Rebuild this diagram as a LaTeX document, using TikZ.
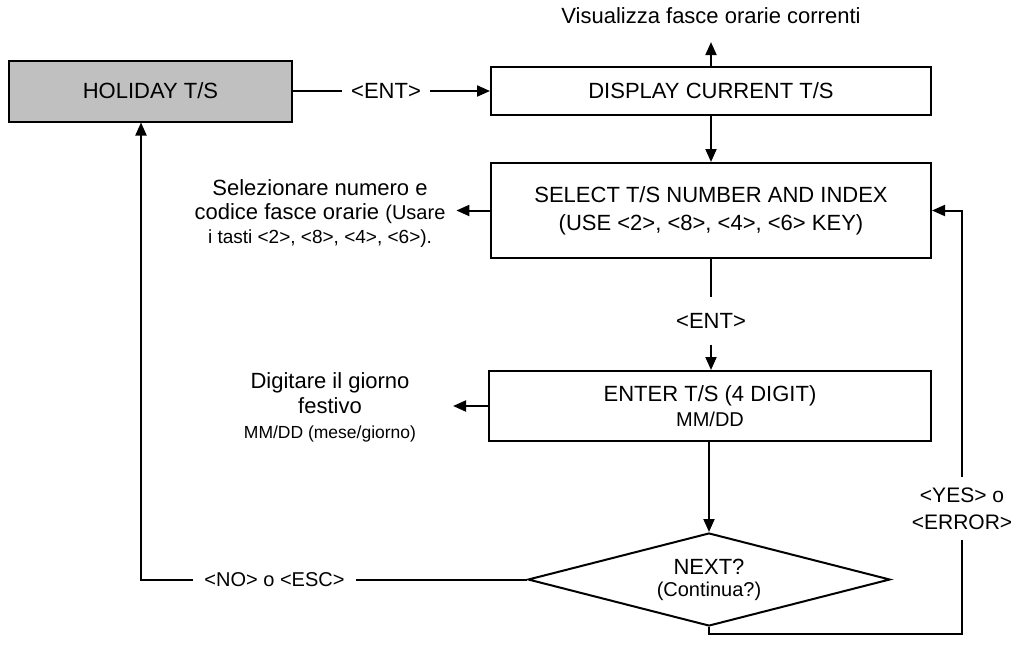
\documentclass[tikz,border=0pt]{standalone}
\usepackage{fontspec}
\setmainfont{Liberation Sans}
\usetikzlibrary{arrows.meta,shapes.geometric}
\definecolor{holgray}{RGB}{192,192,192}
\newcommand\txtA{\fontsize{22}{28}\selectfont}
\newcommand\txtB{\fontsize{20}{24}\selectfont}
\newcommand\txtC{\fontsize{19}{24}\selectfont}
\begin{document}
\begin{tikzpicture}[x=1pt,y=-1pt,
  line width=2pt,
  >={Triangle[length=13pt,width=11pt]},
  box/.style={draw, rectangle, inner sep=0pt, align=center, font=\txtA},
  lbl/.style={inner sep=0pt, align=center, font=\fontsize{22}{24}\selectfont}]
\useasboundingbox (0,0) rectangle (1020,664);

% process boxes
\node[box, fill=holgray, minimum width=283pt, minimum height=61pt] (hol) at (150.5,91) {HOLIDAY T/S};
\node[box, minimum width=440pt, minimum height=48pt] (disp) at (711,91) {DISPLAY CURRENT T/S};
\node[box, minimum width=440pt, minimum height=95pt] (sel) at (711,210.5)
  {SELECT T/S NUMBER AND INDEX\\(USE <2>, <8>, <4>, <6> KEY)};
\node[box, minimum width=442pt, minimum height=70pt, font=\fontsize{22}{25}\selectfont] (ent) at (710,406)
  {ENTER T/S (4 DIGIT)\\{\txtB MM/DD}};
\node[draw, diamond, aspect=3.9, minimum width=362pt, minimum height=93pt, inner sep=0pt,
  align=center, font=\fontsize{22}{22}\selectfont] (dia) at (709,579.5)
  {NEXT?\\{\txtB (Continua?)}};

% descriptions and key labels
\node[lbl, inner ysep=17pt] (vis) at (711,16) {Visualizza fasce orarie correnti};
\node[lbl, inner xsep=8pt] (ent1) at (386,91) {<ENT>};
\node[lbl, inner xsep=10pt] (selnote) at (320,213)
  {Selezionare numero e\\codice fasce orarie {\txtB (Usare}\\{\txtC i tasti <2>, <8>, <4>, <6>).}};
\node[lbl, inner ysep=15pt] (ent2) at (711,321) {<ENT>};
\node[lbl, inner xsep=36pt, font=\fontsize{22}{25}\selectfont] (entnote) at (330,407)
  {Digitare il giorno\\festivo\\{\fontsize{17.5}{24}\selectfont MM/DD (mese/giorno)}};
\node[lbl, inner xsep=10pt, font=\txtB] (nolbl) at (274.5,579.5) {<NO> o <ESC>};
\node[lbl, inner ysep=10pt, font=\fontsize{21}{27}\selectfont] (yeslbl) at (962,508.5) {<YES> o\\<ERROR>};

% connectors
\draw (hol.east) -- (ent1.west);
\draw[->] (ent1.east) -- (disp.west);
\draw[->] (disp.north) -- (vis.south);
\draw[->] (disp.south) -- (sel.north);
\draw[->] (sel.west) -- (sel.west -| selnote.east);
\draw (sel.south) -- (ent2.north);
\draw[->] (ent2.south) -- (ent2.south |- ent.north);
\draw[->] (ent.west) -- (ent.west -| entnote.east);
\draw[->] (ent.south -| dia.north) -- (dia.north);
\draw (dia.west) -- (dia.west -| nolbl.east);
\draw[->] (nolbl.west) -| ([xshift=-9.5pt]hol.south);
\draw (dia.south) -- ++(0,7) -| (yeslbl.south);
\draw[->] (yeslbl.north) |- (sel.east);
\end{tikzpicture}
\end{document}
